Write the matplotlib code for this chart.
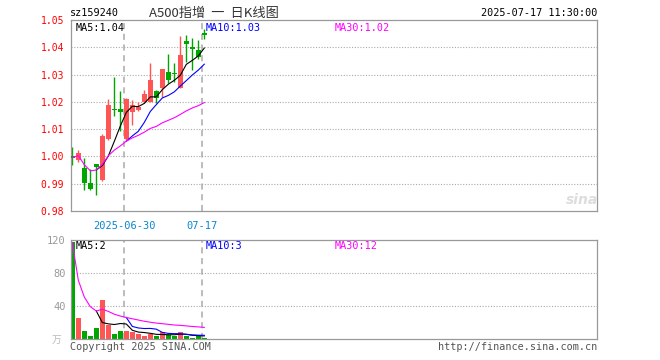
import numpy as np
import pandas as pd
import matplotlib
matplotlib.use('Agg')
import matplotlib.pyplot as plt

# Datos diarios (23 sesiones, 2025-06-17 .. 2025-07-17)
fechas = ['06-17', '06-18', '06-19', '06-20', '06-23', '06-24', '06-25', '06-26',
          '06-27', '06-30', '07-01', '07-02', '07-03', '07-04', '07-07', '07-08',
          '07-09', '07-10', '07-11', '07-14', '07-15', '07-16', '07-17']
apertura = [1.0000, 0.9986, 0.9959, 0.9902, 0.9971, 0.9913, 1.0064, 1.0172,
            1.0173, 1.0064, 1.0161, 1.0170, 1.0199, 1.0200, 1.0241, 1.0250,
            1.0311, 1.0303, 1.0252, 1.0424, 1.0402, 1.0390, 1.0454]
cierre = [0.9995, 1.0012, 0.9902, 0.9880, 0.9962, 1.0076, 1.0188, 1.0170,
          1.0161, 1.0212, 1.0188, 1.0182, 1.0229, 1.0280, 1.0213, 1.0320,
          1.0281, 1.0301, 1.0372, 1.0413, 1.0393, 1.0363, 1.0445]
maximo = [1.0036, 1.0023, 0.9993, 0.9953, 0.9972, 1.0083, 1.0210, 1.0292,
          1.0241, 1.0214, 1.0205, 1.0200, 1.0242, 1.0344, 1.0242, 1.0322,
          1.0376, 1.0342, 1.0441, 1.0444, 1.0433, 1.0428, 1.0466]
minimo = [0.9968, 0.9978, 0.9876, 0.9876, 0.9858, 0.9910, 1.0060, 1.0150,
          1.0094, 1.0062, 1.0116, 1.0168, 1.0195, 1.0200, 1.0195, 1.0218,
          1.0268, 1.0274, 1.0250, 1.0345, 1.0317, 1.0357, 1.0430]
volumen = [117, 25.3, 10.2, 4.1, 13, 47, 17.5, 6.1, 10.2, 10.2, 9, 6.5,
           3.3, 5.5, 4, 8, 5, 3.3, 9, 3.3, 1.6, 3.3, 1.6]

# Etiquetas tal como aparecen en el gráfico
etiquetas_vol = ['MA5:2', 'MA10:3', 'MA30:12']
fechas_marcadas = {'06-30': '2025-06-30', '07-17': '07-17'}

ROJO = '#ff5555'
VERDE = '#00a600'
GRIS = '#999999'
MONO = 'DejaVu Sans Mono'

df = pd.DataFrame({'o': apertura, 'c': cierre, 'h': maximo, 'l': minimo, 'v': volumen})
x = np.arange(len(df))
colores = [ROJO if c >= o else VERDE for o, c in zip(df['o'], df['c'])]

ma_precio = {n: df['c'].rolling(n).mean() for n in (5, 10)}
ma_precio[30] = df['c'].expanding().mean()
ma_vol = {n: df['v'].rolling(n).mean() for n in (5, 10)}
ma_vol[30] = df['v'].expanding().mean()
colores_ma = {5: 'black', 10: '#0000ff', 30: '#ff00ff'}

fig = plt.figure(figsize=(6.6, 3.6), dpi=100)
ax = fig.add_axes([71 / 660, 1 - 211 / 360, 526 / 660, 191 / 360])
axv = fig.add_axes([71 / 660, 1 - 339 / 360, 526 / 660, 99 / 360])

xlim = (-0.22, 87.45)
for a in (ax, axv):
    a.set_xlim(*xlim)
    for s in a.spines.values():
        s.set_color(GRIS)
        s.set_linewidth(0.9)
    a.tick_params(length=0)
    a.set_xticks([])
    for f in fechas_marcadas:
        a.axvline(fechas.index(f) - 0.35, color='#aaaaaa', lw=1.1, ls=(0, (4, 3)), zorder=0)

# Velas
cuerpo = np.maximum(np.abs(df['c'] - df['o']), 0.0003)
ax.vlines(x, df['l'], df['h'], colors=colores, lw=1.0, zorder=2)
ax.bar(x, cuerpo, bottom=np.minimum(df['o'], df['c']), width=0.8, color=colores, zorder=3)
for n in (5, 10, 30):
    ax.plot(x, ma_precio[n], color=colores_ma[n], lw=0.8, zorder=4)

ax.set_ylim(0.98, 1.05)
yt = np.round(np.arange(0.98, 1.0501, 0.01), 2)
ax.set_yticks(yt)
ax.set_yticklabels([f'{v:.2f}' for v in yt], color='red', fontsize=7, family=MONO)
ax.tick_params(axis='y', pad=5)
for v in yt[1:-1]:
    ax.axhline(v, color='#aaaaaa', lw=0.8, ls=(0, (1, 1.5)), zorder=0)

for f, lab in fechas_marcadas.items():
    ax.text(fechas.index(f) - 0.35, 0.9765, lab, ha='center', va='top', color='#0a86d0',
            fontsize=7.5, family=MONO)

ax.text(0.008, 0.985, f'MA5:{ma_precio[5].iloc[-1]:.2f}', transform=ax.transAxes,
        va='top', fontsize=7.3, family=MONO, color='black')
ax.text(0.255, 0.985, f'MA10:{ma_precio[10].iloc[-1]:.2f}', transform=ax.transAxes,
        va='top', fontsize=7.3, family=MONO, color='#0000ff')
ax.text(0.502, 0.985, f'MA30:{ma_precio[30].iloc[-1]:.2f}', transform=ax.transAxes,
        va='top', fontsize=7.3, family=MONO, color='#ff00ff')

# Volumen
axv.bar(x, df['v'], width=0.8, color=colores, zorder=2)
for n in (5, 10, 30):
    axv.plot(x, ma_vol[n], color=colores_ma[n], lw=0.8, zorder=3)
axv.set_ylim(0, 120)
axv.set_yticks([40, 80, 120])
axv.set_yticklabels(['40', '80', '120'], color=GRIS, fontsize=7.5, family=MONO)
axv.tick_params(axis='y', pad=4)
for v in (40, 80):
    axv.axhline(v, color='#aaaaaa', lw=0.8, ls=(0, (1, 1.5)), zorder=0)
for lab, px, col in zip(etiquetas_vol, (0.008, 0.255, 0.502), ('black', '#0000ff', '#ff00ff')):
    axv.text(px, 0.985, lab, transform=axv.transAxes, va='top', fontsize=7.3, family=MONO, color=col)

# Textos de cabecera y pie
fig.text(70 / 660, 1 - 13 / 360, 'sz159240', fontsize=7.3, family=MONO, va='center')
fig.text(214 / 660, 1 - 13 / 360, 'A500指增  一  日K线图', fontsize=9.5, ha='center', va='center',
         family=['Noto Sans CJK SC', 'DejaVu Sans'], color='#333333')
fig.text(597 / 660, 1 - 13 / 360, '2025-07-17 11:30:00', fontsize=7.3, family=MONO,
         ha='right', va='center')
fig.text(57 / 660, 1 - 340 / 360, '万', fontsize=7, ha='center', va='center', color='#bbbbbb',
         family=['Noto Sans CJK SC', 'DejaVu Sans'])
fig.text(70 / 660, 1 - 347 / 360, 'Copyright 2025 SINA.COM', fontsize=7.3, family=MONO,
         va='center', color='#555555')
fig.text(597 / 660, 1 - 347 / 360, 'http://finance.sina.com.cn', fontsize=7.3, family=MONO,
         ha='right', va='center', color='#555555')
fig.text(582 / 660, 1 - 200 / 360, 'sina', fontsize=10, style='italic', weight='bold',
         ha='center', va='center', color='#dddddd')

fig.savefig('out.png', dpi=100)
